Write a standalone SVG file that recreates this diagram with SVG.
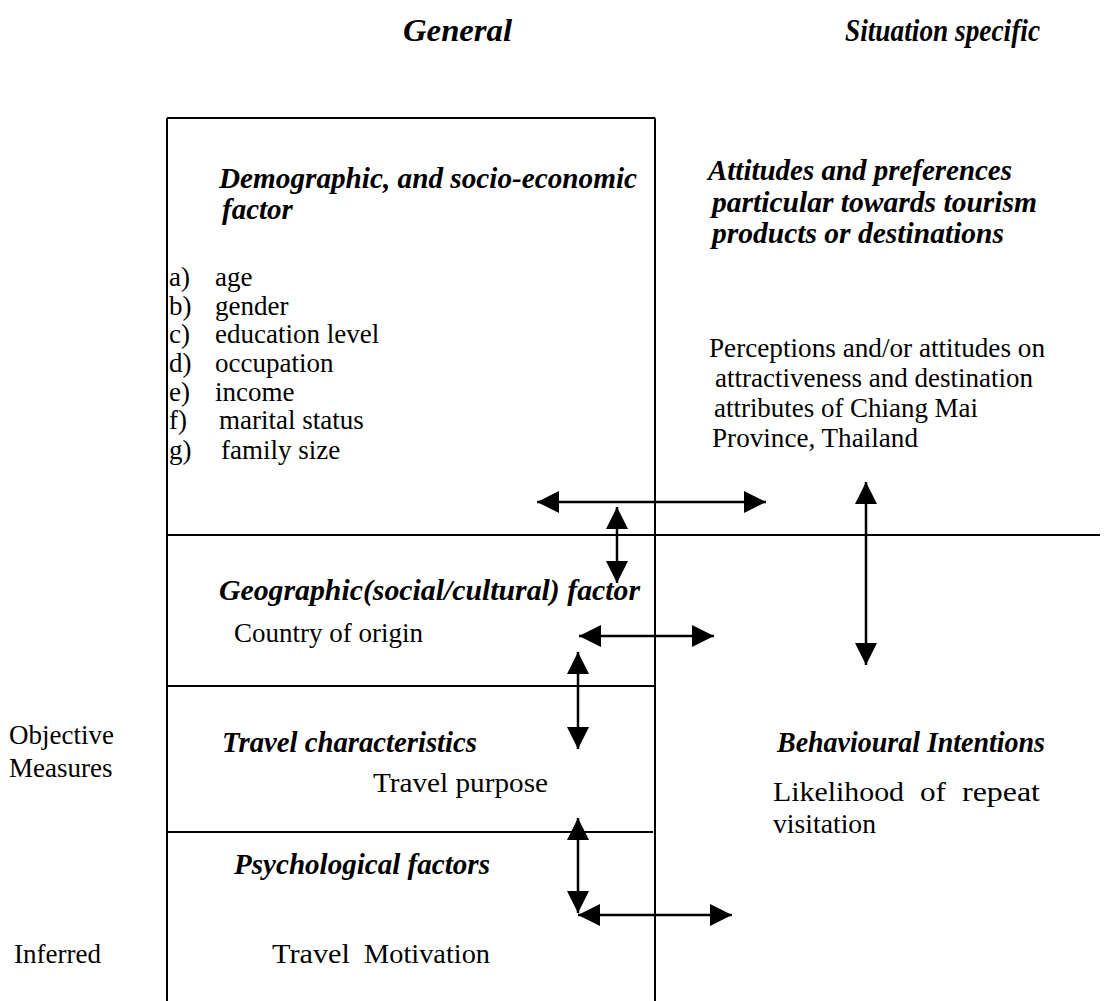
<svg xmlns="http://www.w3.org/2000/svg" width="1106" height="1001" viewBox="0 0 1106 1001">
  <style>
    .frame { stroke: #000; stroke-width: 2; fill: none; }
    .head { font-family: "Liberation Serif", "Times New Roman", serif; font-size: 29px; font-weight: bold; font-style: italic; fill: #000; }
    .title { font-size: 32px; }
    .body { font-family: "Liberation Serif", "Times New Roman", serif; font-size: 27px; fill: #000; }
    .conn { stroke: #000; stroke-width: 2.5; fill: none; marker-start: url(#tip); marker-end: url(#tip); }
  </style>
  <defs>
    <marker id="tip" markerUnits="userSpaceOnUse" markerWidth="22" markerHeight="22" viewBox="0 0 20 20" refX="20" refY="10" orient="auto-start-reverse">
      <path d="M0,0 L20,10 L0,20 Z" fill="#000"/>
    </marker>
  </defs>
  <rect width="1106" height="1001" fill="#fff"/>

  <!-- column titles -->
  <g id="col-titles">
    <text class="head title" x="403" y="41" textLength="109" lengthAdjust="spacingAndGlyphs">General</text>
    <text class="head title" x="845" y="41" textLength="195" lengthAdjust="spacingAndGlyphs">Situation specific</text>
  </g>

  <!-- grid lines -->
  <g id="frame">
    <line class="frame" x1="167" y1="118" x2="167" y2="1001"/>
    <line class="frame" x1="167" y1="118" x2="655" y2="118"/>
    <line class="frame" x1="655" y1="118" x2="655" y2="1001"/>
    <line class="frame" x1="167" y1="535" x2="1100" y2="535"/>
    <line class="frame" x1="167" y1="686" x2="655" y2="686"/>
    <line class="frame" x1="167" y1="832" x2="653" y2="832"/>
  </g>

  <!-- side labels -->
  <g id="side-labels">
    <text class="body" x="9" y="744">Objective</text>
    <text class="body" x="9" y="777">Measures</text>
    <text class="body" x="14" y="963">Inferred</text>
  </g>

  <g id="demographic">
    <text class="head" x="219" y="188" textLength="418" lengthAdjust="spacingAndGlyphs">Demographic, and socio-economic</text>
    <text class="head" x="222" y="219">factor</text>
    <text class="body" x="169" y="286">a)</text><text class="body" x="215" y="286">age</text>
    <text class="body" x="169" y="315">b)</text><text class="body" x="215" y="315">gender</text>
    <text class="body" x="169" y="343">c)</text><text class="body" x="215" y="343">education level</text>
    <text class="body" x="169" y="372">d)</text><text class="body" x="215" y="372">occupation</text>
    <text class="body" x="169" y="401">e)</text><text class="body" x="215" y="401">income</text>
    <text class="body" x="169" y="429">f)</text><text class="body" x="219" y="429">marital status</text>
    <text class="body" x="169" y="459">g)</text><text class="body" x="221" y="459">family size</text>
  </g>

  <g id="attitudes">
    <text class="head" x="708" y="180" textLength="304" lengthAdjust="spacingAndGlyphs">Attitudes and preferences</text>
    <text class="head" x="712" y="212" textLength="325" lengthAdjust="spacingAndGlyphs">particular towards tourism</text>
    <text class="head" x="712" y="243" textLength="292" lengthAdjust="spacingAndGlyphs">products or destinations</text>
    <text class="body" x="709" y="357" textLength="336" lengthAdjust="spacingAndGlyphs">Perceptions and/or attitudes on</text>
    <text class="body" x="715" y="387" textLength="318" lengthAdjust="spacingAndGlyphs">attractiveness and destination</text>
    <text class="body" x="714" y="417" textLength="264" lengthAdjust="spacingAndGlyphs">attributes of Chiang Mai</text>
    <text class="body" x="712" y="447" textLength="206" lengthAdjust="spacingAndGlyphs">Province, Thailand</text>
  </g>

  <g id="geographic">
    <text class="head" x="219" y="600" textLength="421" lengthAdjust="spacingAndGlyphs">Geographic(social/cultural) factor</text>
    <text class="body" x="234" y="642">Country of origin</text>
  </g>

  <g id="travel">
    <text class="head" x="222" y="752" textLength="255" lengthAdjust="spacingAndGlyphs">Travel characteristics</text>
    <text class="body" x="373" y="792" textLength="175" lengthAdjust="spacingAndGlyphs">Travel purpose</text>
  </g>

  <g id="psychological">
    <text class="head" x="234" y="874" textLength="256" lengthAdjust="spacingAndGlyphs">Psychological factors</text>
    <text class="body" x="272" y="963" textLength="78" lengthAdjust="spacingAndGlyphs">Travel</text>
    <text class="body" x="364" y="963" textLength="126" lengthAdjust="spacingAndGlyphs">Motivation</text>
  </g>

  <g id="behavioural">
    <text class="head" x="777" y="752" textLength="268" lengthAdjust="spacingAndGlyphs">Behavioural Intentions</text>
    <text class="body" x="773" y="801" textLength="131" lengthAdjust="spacingAndGlyphs">Likelihood</text>
    <text class="body" x="920" y="801" textLength="26" lengthAdjust="spacingAndGlyphs">of</text>
    <text class="body" x="962" y="801" textLength="78" lengthAdjust="spacingAndGlyphs">repeat</text>
    <text class="body" x="773" y="833" textLength="103" lengthAdjust="spacingAndGlyphs">visitation</text>
  </g>

  <!-- two-way links -->
  <g id="connectors">
    <line class="conn" x1="537" y1="502" x2="766" y2="502"/>
    <line class="conn" x1="617" y1="507" x2="617" y2="583"/>
    <line class="conn" x1="579" y1="636" x2="714" y2="636"/>
    <line class="conn" x1="578" y1="652" x2="578" y2="749"/>
    <line class="conn" x1="578" y1="818" x2="578" y2="913"/>
    <line class="conn" x1="578" y1="915" x2="732" y2="915"/>
    <line class="conn" x1="866" y1="482" x2="866" y2="665"/>
  </g>
</svg>
